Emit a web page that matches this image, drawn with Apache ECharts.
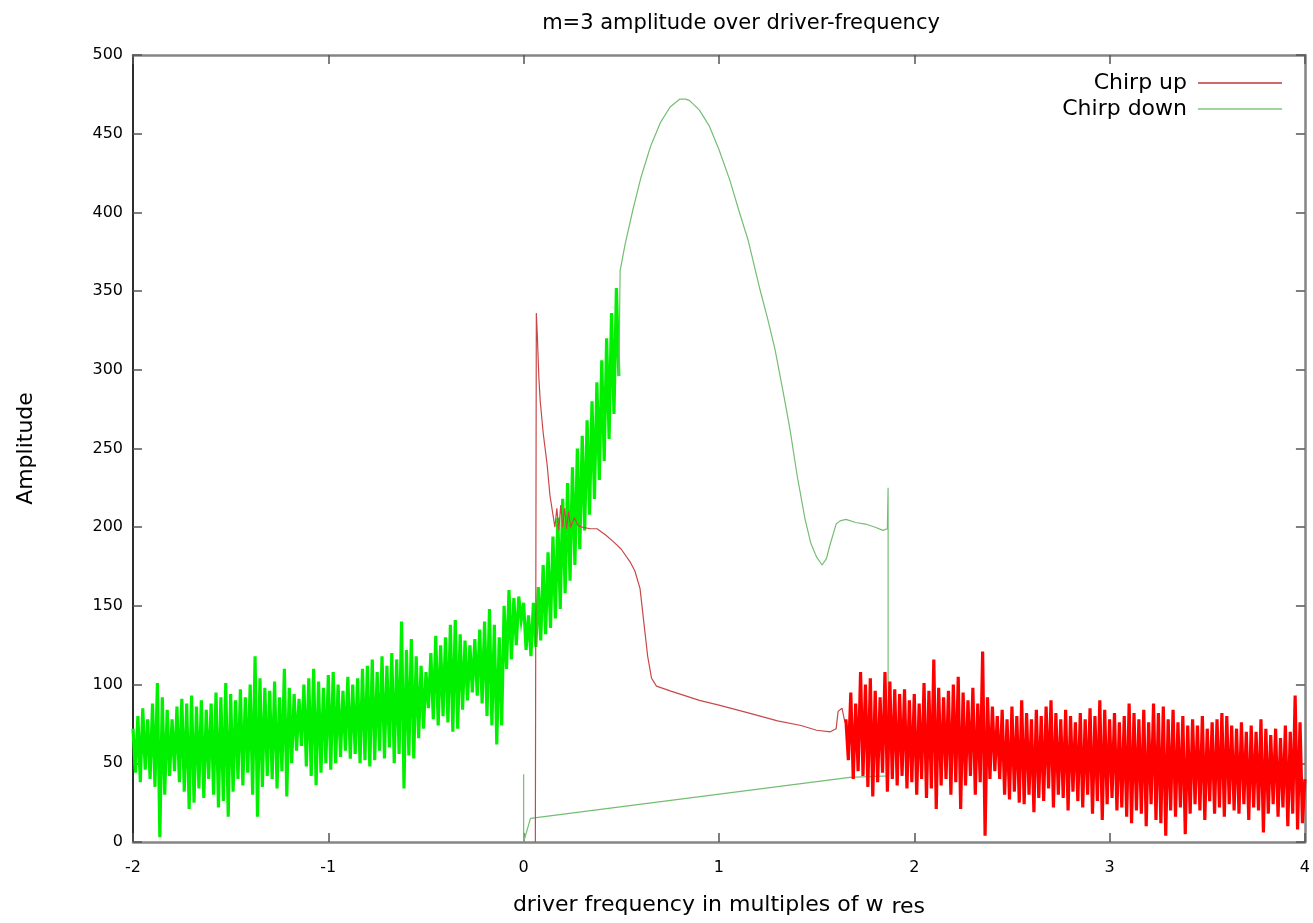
<!DOCTYPE html>
<html>
<head>
<meta charset="utf-8">
<title>m=3 amplitude over driver-frequency</title>
<script src="https://cdn.jsdelivr.net/npm/echarts@6/dist/echarts.min.js"></script>
<style>
  html, body { margin: 0; padding: 0; background: #ffffff; }
  #chart { width: 1313px; height: 923px; }
</style>
</head>
<body>
<div id="chart"></div>
<script>
// ---- data -------------------------------------------------------------
// Frequency axis (multiples of w_res) and amplitude axis ranges / ticks
const xRange = { min: -2, max: 4, step: 1 };
const yRange = { min: 0, max: 500, step: 50 };
const seriesNames = ['Chirp up', 'Chirp down'];

// Chirp down: densely sampled oscillating amplitude, x = -2 .. 0.4875 every 0.0125
const chirpDownNoiseStart = -2;
const chirpDownNoiseStep = 0.0125;
const chirpDownNoise = [
  72,44,80,38,85,46,78,40,
  88,35,101,3,92,30,84,42,
  78,45,86,38,91,32,88,21,
  93,25,86,34,90,28,84,40,
  88,30,95,22,92,26,101,16,
  94,32,90,40,97,36,92,44,
  100,30,118,16,104,35,98,42,
  96,40,102,34,92,45,110,29,
  98,50,94,58,91,61,100,48,
  104,42,110,36,102,44,98,50,
  106,46,108,50,100,54,96,58,
  105,53,100,56,104,50,110,52,
  112,48,116,52,108,58,118,53,
  112,60,120,50,116,56,140,34,
  122,55,129,53,118,66,112,72,
  108,85,120,78,131,74,125,80,
  130,76,138,70,141,72,132,84,
  128,90,125,95,129,93,135,88,
  140,80,148,74,138,62,130,74,
  150,110,160,116,155,125,156,141,
  152,122,144,118,152,124,162,128,
  176,132,184,136,194,142,206,148,
  218,158,228,166,238,176,250,186,
  258,198,268,208,280,218,292,230,
  306,242,320,256,336,272,352,296
];

// Chirp down: smooth resonance branch, the drop at 1.866 and the low return path
const chirpDownCurve = [
  [0.4875,296],[0.494,363],[0.52,380],[0.56,402],[0.6,422],[0.65,442],[0.7,457],
  [0.75,467],[0.8,472],[0.83,472],[0.85,471],[0.9,465],[0.95,455],[1.0,440],
  [1.057,420],[1.1,402],[1.15,382],[1.21,351],[1.25,332],[1.287,313],[1.33,285],
  [1.364,262],[1.4,233],[1.441,205],[1.47,190],[1.5,181],[1.528,176],[1.55,180],
  [1.569,189],[1.6,202],[1.62,204],[1.65,205],[1.7,203],[1.75,202],[1.8,200],
  [1.84,198],[1.862,199],[1.866,225],[1.866,42],[1.67,41],[0.035,15],[0,0],[0,43]
];

// Chirp up: capture spike at 0.065, decay and slow branch down to 1.645
const chirpUpCurve = [
  [0.06,0],[0.065,336],[0.07,322],[0.078,295],[0.085,280],[0.1,260],[0.12,240],
  [0.135,220],[0.15,208],[0.16,200],[0.17,212],[0.18,198],[0.19,214],[0.2,200],
  [0.21,212],[0.22,199],[0.23,210],[0.24,200],[0.26,206],[0.28,201],[0.3,200],
  [0.34,199],[0.376,199],[0.42,195],[0.458,191],[0.5,186],[0.545,178],[0.57,172],
  [0.596,161],[0.615,140],[0.635,118],[0.655,104],[0.68,99],[0.75,96],[0.9,90],
  [1.0,87],[1.15,82],[1.3,77],[1.42,74],[1.5,71],[1.57,70],[1.6,72],[1.61,83],
  [1.63,85],[1.645,76]
];

// Chirp up: densely sampled oscillating amplitude, x = 1.65 .. 4.0 every 0.0125
const chirpUpNoiseStart = 1.65;
const chirpUpNoiseStep = 0.0125;
const chirpUpNoise = [
  78,52,95,40,88,45,108,42,
  100,35,104,29,96,38,92,44,
  108,32,102,40,97,36,94,42,
  97,34,90,38,94,30,88,40,
  101,28,96,34,116,21,98,36,
  92,40,96,30,100,38,105,21,
  95,36,90,42,98,30,88,38,
  121,4,92,40,86,45,80,40,
  84,30,78,27,86,32,80,25,
  90,24,82,30,78,19,84,28,
  80,26,86,34,90,22,82,30,
  78,28,84,20,80,32,76,26,
  82,22,78,30,85,18,80,26,
  90,14,84,24,78,28,82,20,
  76,22,80,16,88,12,82,20,
  78,18,84,10,76,24,88,14,
  82,12,86,4,78,20,84,16,
  76,22,80,5,74,18,78,24,
  74,20,80,14,72,26,76,18,
  78,22,82,16,80,24,74,20,
  72,18,76,24,70,14,74,22,
  70,20,78,6,72,18,68,24,
  72,16,66,22,74,10,70,18,
  93,8,76,12,40
];

// ---- chart ------------------------------------------------------------
const FONT = 'DejaVu Sans';
const toPairs = (vals, x0, dx) => vals.map((v, i) => [x0 + i * dx, v]);

const COLORS = {
  upBand: '#ff0000',
  upLine: '#c84848',
  downBand: '#00f000',
  downLine: '#74be74',
  frame: '#858585',
  frameLeft: '#2e2e2e',
  tick: '#555555'
};

const tickLabel = { color: '#000', fontFamily: FONT, fontSize: 16 };

const chart = echarts.init(document.getElementById('chart'), null, { renderer: 'canvas' });

chart.setOption({
  animation: false,
  backgroundColor: '#ffffff',
  title: {
    text: 'm=3 amplitude over driver-frequency',
    left: 736,
    textAlign: 'center',
    top: 8,
    textStyle: { fontFamily: FONT, fontSize: 21, fontWeight: 'normal', color: '#000' }
  },
  legend: {
    orient: 'vertical',
    right: 26,
    top: 67,
    align: 'right',
    itemWidth: 84,
    itemHeight: 2,
    itemGap: 4,
    icon: 'rect',
    textStyle: { fontFamily: FONT, fontSize: 22, color: '#000', padding: [0, 6, 0, 0] },
    data: [
      { name: seriesNames[0], itemStyle: { color: '#d06a6a' } },
      { name: seriesNames[1], itemStyle: { color: '#9fd49f' } }
    ]
  },
  grid: { left: 133, right: 8, top: 55, bottom: 80, containLabel: false },
  xAxis: [
    {
      type: 'value',
      min: xRange.min, max: xRange.max, interval: xRange.step,
      name: 'driver frequency in multiples of w{s|res}',
      nameLocation: 'middle',
      nameGap: 50,
      nameTextStyle: {
        fontFamily: FONT, fontSize: 22, color: '#000',
        rich: { s: { fontFamily: FONT, fontSize: 22, color: '#000', padding: [4, 0, 0, 8] } }
      },
      axisLine: { show: true, onZero: false, lineStyle: { color: COLORS.frame, width: 2.5 } },
      axisTick: { inside: true, length: 9, lineStyle: { color: COLORS.tick, width: 1.5 } },
      axisLabel: Object.assign({ margin: 18 }, tickLabel),
      splitLine: { show: false }
    },
    {
      type: 'value', position: 'top',
      min: xRange.min, max: xRange.max, interval: xRange.step,
      axisLine: { show: true, onZero: false, lineStyle: { color: COLORS.frame, width: 2.5 } },
      axisTick: { inside: true, length: 9, lineStyle: { color: COLORS.tick, width: 1.5 } },
      axisLabel: { show: false },
      splitLine: { show: false }
    }
  ],
  yAxis: [
    {
      type: 'value',
      min: yRange.min, max: yRange.max, interval: yRange.step,
      name: 'Amplitude',
      nameLocation: 'middle',
      nameRotate: 90,
      nameGap: 96,
      nameTextStyle: { fontFamily: FONT, fontSize: 22, color: '#000' },
      axisLine: { show: true, onZero: false, lineStyle: { color: COLORS.frameLeft, width: 2 } },
      axisTick: { inside: true, length: 9, lineStyle: { color: COLORS.tick, width: 1.5 } },
      axisLabel: Object.assign({ margin: 10 }, tickLabel),
      splitLine: { show: false }
    },
    {
      type: 'value', position: 'right',
      min: yRange.min, max: yRange.max, interval: yRange.step,
      axisLine: { show: true, onZero: false, lineStyle: { color: COLORS.frame, width: 2.5 } },
      axisTick: { inside: true, length: 9, lineStyle: { color: COLORS.tick, width: 1.5 } },
      axisLabel: { show: false },
      splitLine: { show: false }
    }
  ],
  series: [
    {
      name: seriesNames[1], type: 'line', showSymbol: false, symbol: 'none', z: 2,
      xAxisIndex: 0, yAxisIndex: 0,
      lineStyle: { color: COLORS.downBand, width: 3.2, join: 'miter' },
      itemStyle: { color: '#9fd49f' },
      data: toPairs(chirpDownNoise, chirpDownNoiseStart, chirpDownNoiseStep)
    },
    {
      name: seriesNames[1], type: 'line', showSymbol: false, symbol: 'none', z: 2,
      xAxisIndex: 0, yAxisIndex: 0,
      lineStyle: { color: COLORS.downLine, width: 1.2 },
      itemStyle: { color: '#9fd49f' },
      data: chirpDownCurve
    },
    {
      name: seriesNames[0], type: 'line', showSymbol: false, symbol: 'none', z: 3,
      xAxisIndex: 0, yAxisIndex: 0,
      lineStyle: { color: COLORS.upLine, width: 1.2 },
      itemStyle: { color: '#d06a6a' },
      data: chirpUpCurve
    },
    {
      name: seriesNames[0], type: 'line', showSymbol: false, symbol: 'none', z: 3,
      xAxisIndex: 0, yAxisIndex: 0,
      lineStyle: { color: COLORS.upBand, width: 3.2, join: 'miter' },
      itemStyle: { color: '#d06a6a' },
      data: toPairs(chirpUpNoise, chirpUpNoiseStart, chirpUpNoiseStep)
    }
  ]
});
</script>
</body>
</html>
